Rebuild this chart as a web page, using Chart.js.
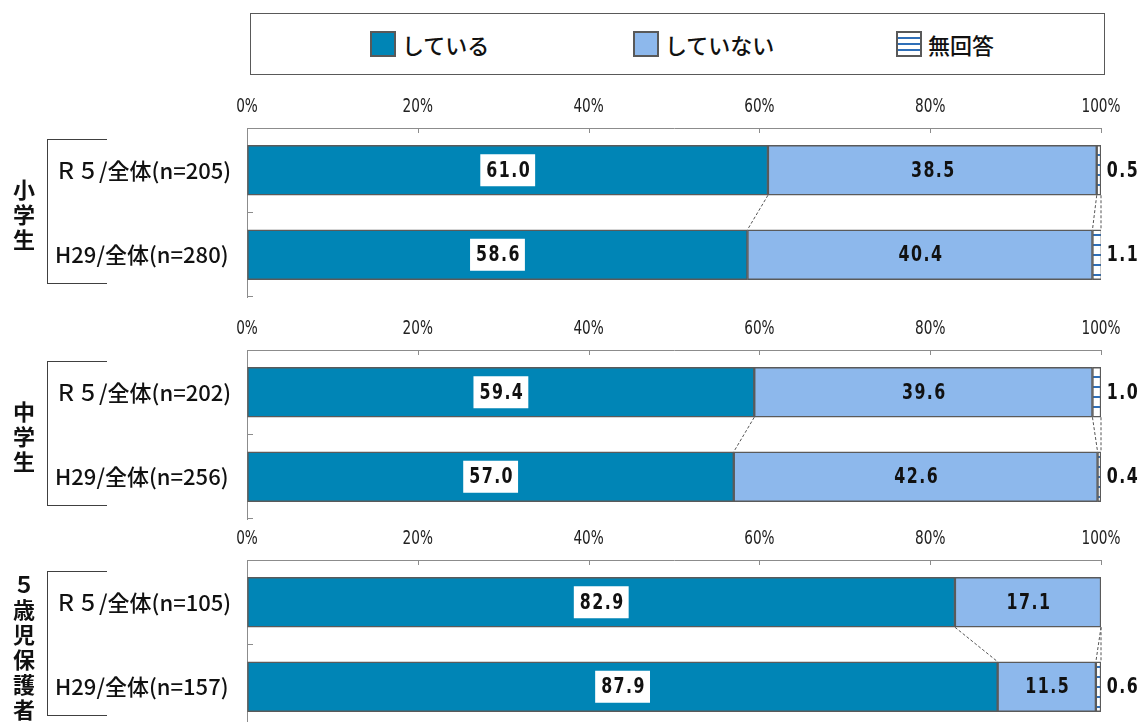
<!DOCTYPE html>
<html lang="ja">
<head>
<meta charset="utf-8">
<script src="https://cdn.jsdelivr.net/npm/chart.js@4.4.1/dist/chart.umd.min.js"></script>
<style>
  html, body { margin: 0; padding: 0; background: #fff; }
  body { width: 1142px; height: 722px; position: relative; overflow: hidden; font-family: "Noto Sans CJK JP", sans-serif; color: #111; }
  canvas { position: absolute; left: 0; }
  #legend { position: absolute; left: 250px; top: 13px; width: 855px; height: 62px; box-sizing: border-box;
            border: 1.5px solid #595959; display: flex; align-items: center; padding-left: 119px; }
  #legend .item { flex: none; width: 263px; display: flex; align-items: center; font-size: 22px; font-weight: 500; }
  #legend .item:last-child { width: auto; }
  #legend .sw { width: 22px; height: 22px; border: 2px solid #595959; margin-right: 6px; }
  .bracket { position: absolute; left: 47px; width: 60px; border: 1.5px solid #404040; border-right: none; box-sizing: border-box; }
  .group { position: absolute; left: 0; width: 48px; text-align: center; font-size: 22px; font-weight: 700; line-height: 25px; }
</style>
</head>
<body>
<div id="legend"></div>
<script>
// 各グループ・年度ごとの割合(%)
const groupNames = ['小学生', '中学生', '５歳児保護者'];
const rowLabels = [
  ['Ｒ５/全体(n=205)', 'H29/全体(n=280)'],
  ['Ｒ５/全体(n=202)', 'H29/全体(n=256)'],
  ['Ｒ５/全体(n=105)', 'H29/全体(n=157)']
];
const seriesNames = ['している', 'していない', '無回答'];
const doing    = [[61.0, 58.6], [59.4, 57.0], [82.9, 87.9]];
const notDoing = [[38.5, 40.4], [39.6, 42.6], [17.1, 11.5]];
const noAnswer = [[0.5, 1.1], [1.0, 0.4], [0, 0.6]];
const xTicks = [0, 20, 40, 60, 80, 100];

const panelTops = [90, 312, 522];
const darkBlue = '#0085b6';
const lightBlue = '#8db8ec';
const stripeBlue = '#2f6fb8';

// 無回答の横縞
function stripePattern() {
  const c = document.createElement('canvas');
  c.width = 10; c.height = 10;
  const g = c.getContext('2d');
  g.fillStyle = '#fff';
  g.fillRect(0, 0, 10, 10);
  g.fillStyle = stripeBlue;
  g.fillRect(0, 4, 10, 2);
  return g.createPattern(c, 'repeat');
}

// 凡例
const legendFills = [darkBlue, lightBlue,
  'repeating-linear-gradient(to bottom, #fff 0 4px, ' + stripeBlue + ' 4px 6px)'];
const legend = document.getElementById('legend');
seriesNames.forEach(function (name, i) {
  const item = document.createElement('div');
  item.className = 'item';
  item.innerHTML = '<span class="sw" style="background:' + legendFills[i] + '"></span>' + name;
  legend.appendChild(item);
});

// 細めの文字(横方向に縮めて描く)
function narrowText(ctx, txt, x, y, sx) {
  ctx.save();
  ctx.translate(x, y);
  ctx.scale(sx, 1);
  ctx.fillText(txt, 0, 0);
  ctx.restore();
}

const decorations = {
  id: 'decorations',
  afterDatasetsDraw(chart) {
    const ctx = chart.ctx;
    const a = chart.chartArea;
    const x = chart.scales.x, y = chart.scales.y;
    ctx.save();

    // 内向きの目盛り
    ctx.strokeStyle = '#8c8c8c';
    ctx.lineWidth = 1;
    ctx.beginPath();
    x.ticks.forEach(function (t) {
      const px = Math.round(x.getPixelForValue(t.value)) + 0.5;
      ctx.moveTo(px, a.top);
      ctx.lineTo(px, a.top + 5);
    });
    const n = y.ticks.length;
    for (let i = 1; i <= n; i++) {
      const py = Math.round(a.top + i * a.height / n) - 0.5;
      ctx.moveTo(a.left, py);
      ctx.lineTo(a.left + 6, py);
    }
    ctx.stroke();

    // 目盛りラベル(%)
    ctx.font = '19px "DejaVu Sans", sans-serif';
    ctx.fillStyle = '#222';
    ctx.textAlign = 'center';
    ctx.textBaseline = 'middle';
    x.ticks.forEach(function (t) {
      narrowText(ctx, t.value + '%', x.getPixelForValue(t.value), a.top - 21, 0.72);
    });

    // 区分線(破線)
    const metas = chart.data.datasets.map(function (d, i) { return chart.getDatasetMeta(i); });
    const b0 = metas[0].data[0], b1 = metas[0].data[1];
    const y0 = b0.y + b0.height / 2, y1 = b1.y - b1.height / 2;
    let c0 = 0, c1 = 0;
    ctx.setLineDash([3, 2]);
    ctx.strokeStyle = '#555';
    ctx.beginPath();
    chart.data.datasets.forEach(function (ds) {
      c0 += ds.data[0];
      c1 += ds.data[1];
      ctx.moveTo(x.getPixelForValue(Math.min(c0, x.max)), y0);
      ctx.lineTo(x.getPixelForValue(Math.min(c1, x.max)), y1);
    });
    ctx.stroke();
    ctx.setLineDash([]);

    // 数値ラベル
    ctx.font = 'bold 22px "DejaVu Sans", sans-serif';
    ctx.letterSpacing = '2px';
    metas.forEach(function (m, di) {
      m.data.forEach(function (bar, i) {
        const v = chart.data.datasets[di].data[i];
        if (!v) return;
        const txt = v.toFixed(1);
        ctx.fillStyle = '#111';
        if (di === 2) {
          narrowText(ctx, txt, a.right + 22, bar.y + 1, 0.72);
          return;
        }
        const cx = (bar.x + bar.base) / 2;
        if (di === 0) {
          const w = ctx.measureText(txt).width * 0.72 + 10;
          ctx.fillStyle = '#fff';
          ctx.fillRect(cx - w / 2, bar.y - 16, w, 32);
          ctx.fillStyle = '#111';
        }
        narrowText(ctx, txt, cx + 1, bar.y + 1, 0.72);
      });
    });
    ctx.restore();
  }
};

const barStyle = { barThickness: 50, borderColor: '#5a5a5a', borderWidth: 1.5, borderSkipped: false };

groupNames.forEach(function (group, p) {
  const canvas = document.createElement('canvas');
  canvas.width = 1142;
  canvas.height = 227;
  canvas.style.top = panelTops[p] + 'px';
  document.body.appendChild(canvas);

  const chart = new Chart(canvas, {
    type: 'bar',
    data: {
      labels: rowLabels[p],
      datasets: [
        Object.assign({ label: seriesNames[0], data: doing[p], backgroundColor: darkBlue }, barStyle),
        Object.assign({ label: seriesNames[1], data: notDoing[p], backgroundColor: lightBlue }, barStyle),
        Object.assign({ label: seriesNames[2], data: noAnswer[p], backgroundColor: stripePattern() }, barStyle)
      ]
    },
    options: {
      indexAxis: 'y',
      responsive: false,
      animation: false,
      layout: { padding: { left: 55, right: 41, top: 0, bottom: 20 } },
      plugins: {
        legend: { display: false },
        tooltip: { enabled: false }
      },
      scales: {
        x: {
          position: 'top',
          stacked: true,
          min: xTicks[0],
          max: xTicks[xTicks.length - 1],
          ticks: {
            stepSize: xTicks[1] - xTicks[0],
            display: false
          },
          grid: { drawOnChartArea: false, drawTicks: false },
          border: { color: '#8c8c8c', width: 1 },
          afterFit: function (s) { s.height = 38; }
        },
        y: {
          stacked: true,
          ticks: {
            crossAlign: 'far',
            color: '#111',
            font: { family: '"Noto Sans CJK JP", sans-serif', size: 22, weight: 500 }
          },
          grid: { drawOnChartArea: false, drawTicks: false },
          border: { color: '#8c8c8c', width: 1 },
          afterFit: function (s) { s.width = 192; }
        }
      }
    },
    plugins: [decorations]
  });

  // 左側の括弧とグループ名
  const ys = chart.scales.y;
  const r0 = panelTops[p] + ys.getPixelForValue(0);
  const r1 = panelTops[p] + ys.getPixelForValue(1);
  const br = document.createElement('div');
  br.className = 'bracket';
  br.style.top = (r0 - 31) + 'px';
  br.style.height = (r1 - r0 + 60) + 'px';
  document.body.appendChild(br);

  const chars = group.split('');
  const lbl = document.createElement('div');
  lbl.className = 'group';
  lbl.innerHTML = chars.join('<br>');
  lbl.style.top = ((r0 + r1) / 2 + 1 - chars.length * 25 / 2) + 'px';
  document.body.appendChild(lbl);
});
</script>
</body>
</html>
